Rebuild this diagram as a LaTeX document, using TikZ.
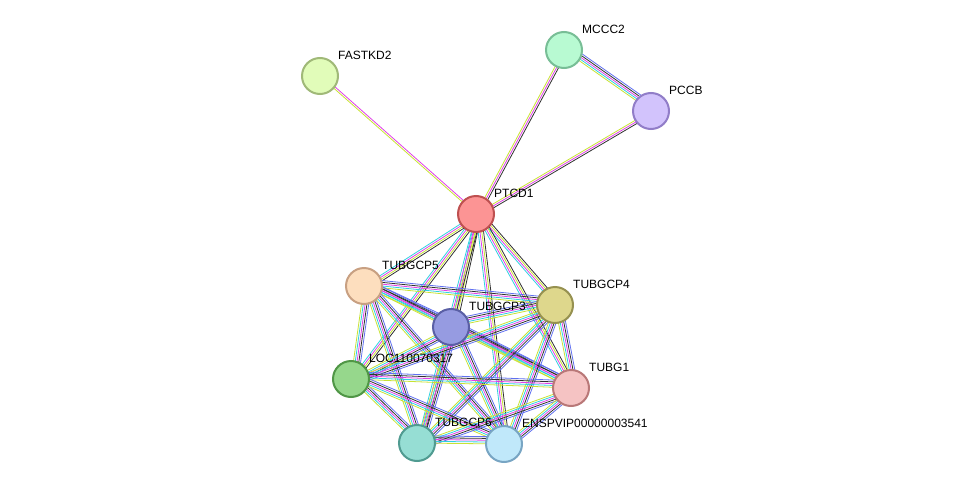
\documentclass[tikz,border=0pt]{standalone}
\usepackage{fontspec}
\setmainfont{Liberation Sans}
\usetikzlibrary{calc}

\definecolor{tm}{HTML}{C8E234}
\definecolor{ex}{HTML}{E040E8}
\definecolor{db}{HTML}{30D0E0}
\definecolor{co}{HTML}{303030}
\definecolor{ho}{HTML}{6070F0}

\tikzset{
  prot/.style={circle, draw, line width=2pt, minimum size=36pt, inner sep=0pt},
  lab/.style={anchor=west, font=\fontsize{12}{12}\selectfont, inner sep=0pt},
  ln/.style={line width=0.8pt}
}

% parallel coloured lines between two nodes
\newcommand{\evlink}[3]{%
  \foreach \c [count=\i] in {#3} {
    \pgfmathsetmacro{\off}{(\i-1)*1.8}
    \draw[ln, \c] ($(#1)!\off pt!90:(#2)$) -- ($(#2)!\off pt!-90:(#1)$);
  }
}

\begin{document}
\begin{tikzpicture}[x=1pt, y=-1pt]
      \useasboundingbox (0, 0) rectangle (975, 490);

      \coordinate (mccc) at (564, 50);
      \coordinate (pccb) at (651, 111);
      \coordinate (fast) at (320, 76);
      \coordinate (ptcd) at (476, 214);
      \coordinate (gcp5) at (364, 286);
      \coordinate (gcp3) at (451, 327);
      \coordinate (gcp4) at (555, 305);
      \coordinate (loc) at (351, 379);
      \coordinate (tubg) at (571, 388);
      \coordinate (gcp6) at (417, 443);
      \coordinate (ensp) at (504, 444);

      \evlink{fast}{ptcd}{tm, ex}
      \evlink{mccc}{ptcd}{tm, ex, co}
      \evlink{pccb}{ptcd}{tm, ex, co}
      \evlink{mccc}{pccb}{tm, db, ex, co, ho}

      \foreach \t in {gcp5, gcp3, gcp4, loc, tubg, gcp6, ensp} {
        \evlink{ptcd}{\t}{db, ex, tm, co}
      }
      \foreach \a/\b in {gcp5/gcp3, gcp5/gcp4, gcp5/loc, gcp5/tubg, gcp5/gcp6, gcp5/ensp,
                         gcp3/gcp4, gcp3/loc, gcp3/tubg, gcp3/gcp6, gcp3/ensp,
                         gcp4/loc, gcp4/tubg, gcp4/gcp6, gcp4/ensp,
                         loc/tubg, loc/gcp6, loc/ensp,
                         tubg/gcp6, tubg/ensp, gcp6/ensp} {
        \evlink{\a}{\b}{tm, db, ex, co, ho}
      }

      \node[prot, fill={rgb,255:red,184;green,250;blue,210}, draw={rgb,255:red,120;green,190;blue,150}] (n1) at (mccc) {};
      \node[prot, fill={rgb,255:red,210;green,195;blue,252}, draw={rgb,255:red,145;green,125;blue,200}] (n2) at (pccb) {};
      \node[prot, fill={rgb,255:red,225;green,252;blue,185}, draw={rgb,255:red,160;green,185;blue,120}] (n3) at (fast) {};
      \node[prot, fill={rgb,255:red,252;green,148;blue,148}, draw={rgb,255:red,190;green,80;blue,80}] (n4) at (ptcd) {};
      \node[prot, fill={rgb,255:red,253;green,222;blue,190}, draw={rgb,255:red,200;green,160;blue,130}] (n5) at (gcp5) {};
      \node[prot, fill={rgb,255:red,150;green,155;blue,225}, draw={rgb,255:red,90;green,95;blue,165}] (n6) at (gcp3) {};
      \node[prot, fill={rgb,255:red,222;green,215;blue,140}, draw={rgb,255:red,150;green,145;blue,80}] (n7) at (gcp4) {};
      \node[prot, fill={rgb,255:red,150;green,215;blue,140}, draw={rgb,255:red,80;green,150;blue,70}] (n8) at (loc) {};
      \node[prot, fill={rgb,255:red,245;green,195;blue,195}, draw={rgb,255:red,185;green,120;blue,120}] (n9) at (tubg) {};
      \node[prot, fill={rgb,255:red,150;green,222;blue,212}, draw={rgb,255:red,80;green,155;blue,145}] (n10) at (gcp6) {};
      \node[prot, fill={rgb,255:red,192;green,232;blue,250}, draw={rgb,255:red,120;green,165;blue,195}] (n11) at (ensp) {};

      \node[lab] at ($(mccc)+(18,-21)$) {MCCC2};
      \node[lab] at ($(pccb)+(18,-21)$) {PCCB};
      \node[lab] at ($(fast)+(18,-21)$) {FASTKD2};
      \node[lab] at ($(ptcd)+(18,-21)$) {PTCD1};
      \node[lab] at ($(gcp5)+(18,-21)$) {TUBGCP5};
      \node[lab] at ($(gcp3)+(18,-21)$) {TUBGCP3};
      \node[lab] at ($(gcp4)+(18,-21)$) {TUBGCP4};
      \node[lab] at ($(loc)+(18,-21)$) {LOC110070317};
      \node[lab] at ($(tubg)+(18,-21)$) {TUBG1};
      \node[lab] at ($(gcp6)+(18,-21)$) {TUBGCP6};
      \node[lab] at ($(ensp)+(18,-21)$) {ENSPVIP00000003541};

    \end{tikzpicture}
\end{document}
